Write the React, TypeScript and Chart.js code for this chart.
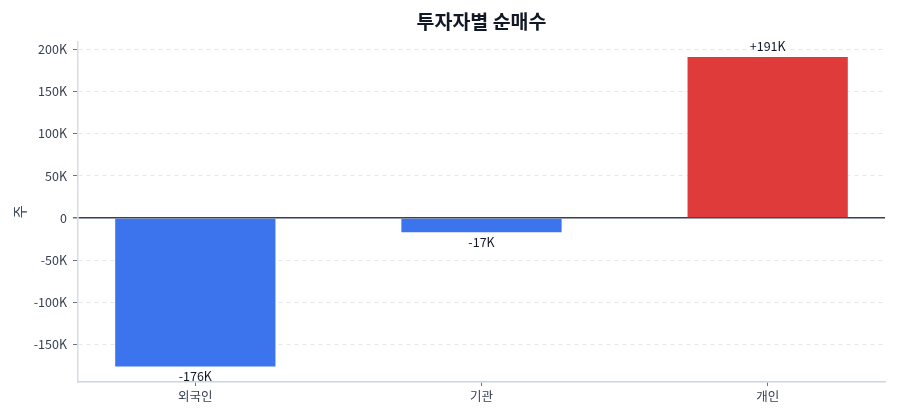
import React, { useEffect, useRef } from "react";
import { Chart, registerables } from "chart.js";

Chart.register(...registerables);

// 투자자별 순매수 (단위: 주)
const categories = ["외국인", "기관", "개인"];
const netBuy = [-176000, -17000, 191000];
const yTickValues = [-150000, -100000, -50000, 0, 50000, 100000, 150000, 200000];
const barColors = ["#3b74ec", "#3b74ec", "#df3b3b"];

const FONT = '"Noto Sans CJK KR", "Noto Sans", sans-serif';
const TEXT = "#374151";

// axis range padded 5% of the data span, like the source chart
const span = Math.max(...netBuy) - Math.min(...netBuy);
const yMin = Math.min(...netBuy) - span * 0.05;
const yMax = Math.max(...netBuy) + span * 0.05;
const xPad = 0.41;

const fmtTick = (v: number) => (v === 0 ? "0" : `${v / 1000}K`);
const fmtValue = (v: number) => `${v > 0 ? "+" : ""}${Math.round(v / 1000)}K`;

const valueLabels = {
  id: "valueLabels",
  afterDatasetsDraw(chart: any) {
    const { ctx } = chart;
    const meta = chart.getDatasetMeta(0);
    ctx.save();
    ctx.font = `12.5px ${FONT}`;
    ctx.fillStyle = "#111827";
    ctx.textAlign = "center";
    ctx.textBaseline = "middle";
    meta.data.forEach((bar: any, i: number) => {
      const v = netBuy[i];
      const y = v >= 0 ? bar.y - 11 : bar.y + 10;
      ctx.fillText(fmtValue(v), bar.x, y);
    });
    ctx.restore();
  },
};

const NetBuyChart: React.FC = () => {
  const canvasRef = useRef<HTMLCanvasElement | null>(null);

  useEffect(() => {
    document.body.style.margin = "0";
    if (!canvasRef.current) return;
    const chart = new Chart(canvasRef.current, {
      type: "bar",
      data: {
        datasets: [
          {
            data: netBuy.map((v, i) => ({ x: i, y: v })),
            backgroundColor: barColors,
            borderWidth: 0,
            categoryPercentage: 1,
            barPercentage: 0.56,
          },
        ],
      },
      options: {
        responsive: true,
        maintainAspectRatio: false,
        animation: false,
        layout: { padding: { left: 0, right: 15, top: 0, bottom: 0 } },
        plugins: {
          legend: { display: false },
          tooltip: { enabled: false },
          title: {
            display: true,
            fullSize: false,
            text: "투자자별 순매수",
            color: "#111827",
            font: { family: FONT, size: 19.5, weight: "bold" },
            padding: { top: 10, bottom: 8 },
          },
        },
        scales: {
          x: {
            type: "linear",
            offset: false,
            min: -xPad,
            max: categories.length - 1 + xPad,
            afterBuildTicks: (s: any) => {
              s.ticks = categories.map((_, i) => ({ value: i }));
            },
            afterFit: (s: any) => {
              s.height = 38;
            },
            ticks: {
              callback: (v: any) => categories[v] ?? "",
              color: TEXT,
              font: { family: FONT, size: 12.5 },
              padding: 3,
              maxRotation: 0,
            },
            grid: { offset: false, drawOnChartArea: false, tickLength: 4, tickColor: "#6b7280" },
            border: { color: "#cbd5e1", width: 1.5 },
          },
          y: {
            min: yMin,
            max: yMax,
            afterBuildTicks: (s: any) => {
              s.ticks = yTickValues.map((v) => ({ value: v }));
            },
            afterFit: (s: any) => {
              s.width = 78;
            },
            ticks: {
              callback: (v: any) => fmtTick(Number(v)),
              color: TEXT,
              font: { family: FONT, size: 12.5 },
              padding: 6,
            },
            grid: {
              color: (c: any) => (c.tick && c.tick.value === 0 ? "#334155" : "#e5e7eb"),
              lineWidth: (c: any) => (c.tick && c.tick.value === 0 ? 1.5 : 1),
              tickLength: 5,
              tickColor: "#6b7280",
            },
            border: {
              color: "#d8dce3",
              width: 1.5,
              dash: (c: any) => (c.tick && c.tick.value === 0 ? [] : [4, 4]),
            },
            title: {
              display: true,
              text: "주",
              color: TEXT,
              font: { family: FONT, size: 14 },
              padding: { top: 11, bottom: 0 },
            },
          },
        },
      },
      plugins: [valueLabels],
    });
    return () => chart.destroy();
  }, []);

  return (
    <div style={{ position: "relative", width: 900, height: 420 }}>
      <canvas ref={canvasRef} />
    </div>
  );
};

export default function App() {
  return <NetBuyChart />;
}
